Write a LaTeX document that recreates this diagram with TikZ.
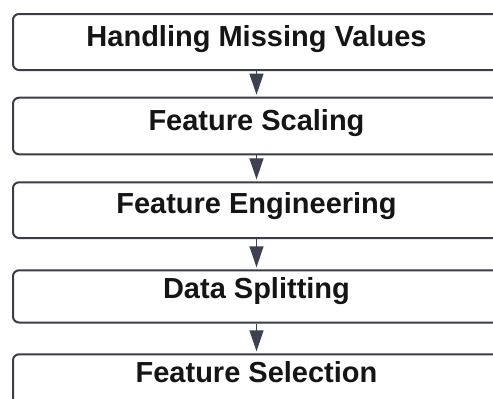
\documentclass[tikz,border=0pt]{standalone}
\usepackage{fontspec}
\setmainfont{Liberation Sans}
\usetikzlibrary{arrows.meta}
\definecolor{boxline}{HTML}{3A3D45}
\definecolor{arrowc}{HTML}{3D4250}
\definecolor{txt}{HTML}{151515}
\tikzset{
  stepbox/.style={draw=boxline, line width=2pt, rounded corners=6pt, fill=white,
    minimum width=487pt, inner xsep=0pt, inner ysep=0pt, anchor=base,
    font=\bfseries\fontsize{29}{30}\selectfont, text=txt},
  flow/.style={draw=arrowc, line width=1.3pt, shorten >=2pt,
    -{Triangle[length=21pt,width=14pt]}, arrowc}
}
\begin{document}
\begin{tikzpicture}[x=1pt,y=1pt]
\useasboundingbox (0,0) rectangle (493,-399);
\clip (0,0) rectangle (493,-399);
\fill[white] (0,0) rectangle (493,-399);
\node[stepbox, text height=32pt, text depth=24pt] (b1) at (256.5,-46) {Handling Missing Values};
\node[stepbox, text height=32.3pt, text depth=24.3pt] (b2) at (256.5,-130) {Feature Scaling};
\node[stepbox, text height=31.2pt, text depth=24.5pt] (b3) at (256.5,-213.5) {Feature Engineering};
\node[stepbox, text height=28pt, text depth=24.2pt] (b4) at (256.5,-298.3) {Data Splitting};
\node[stepbox, text height=27.7pt, text depth=30pt] (b5) at (256.5,-382) {Feature Selection};
\draw[flow] (b1.south) -- (b2.north);
\draw[flow] (b2.south) -- (b3.north);
\draw[flow] (b3.south) -- (b4.north);
\draw[flow] (b4.south) -- (b5.north);
\end{tikzpicture}
\end{document}
